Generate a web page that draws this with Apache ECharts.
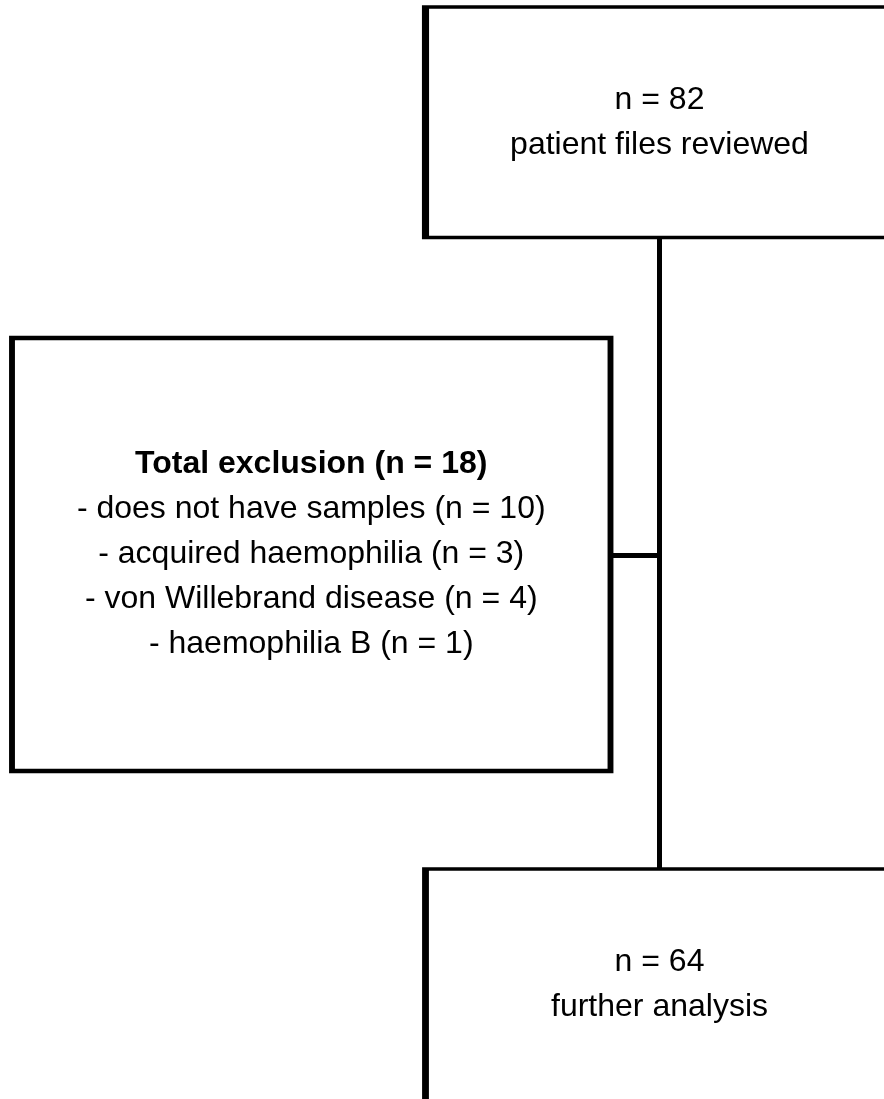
<!DOCTYPE html>
<html>
<head>
<meta charset="utf-8">
<script src="https://cdn.jsdelivr.net/npm/echarts@6/dist/echarts.min.js"></script>
<style>
  html, body { margin: 0; padding: 0; background: #fff; }
  #chart { width: 884px; height: 1099px; }
</style>
</head>
<body>
<div id="chart"></div>
<script>
  // flow counts
  const reviewedCount = 82;
  const reviewedLabel = 'patient files reviewed';
  const excludedCount = 18;
  const exclusionReasons = ['does not have samples', 'acquired haemophilia', 'von Willebrand disease', 'haemophilia B'];
  const exclusionCounts = [10, 3, 4, 1];
  const analysedCount = 64;
  const analysedLabel = 'further analysis';

  // box layout (axis units = px), kept apart from the data
  const layout = {
    top:    { x: 659.5, y: 122.25, w: 468, h: 230.5 },
    excl:   { x: 311.25, y: 554.5, w: 598.5, h: 433 },
    bottom: { x: 659.5, y: 994.5, w: 468, h: 251 },   // runs off the bottom of the page
    trunkX: 659.5,
    branchY: 555
  };

  const font = 'Liberation Sans, Arial, Helvetica, sans-serif';
  const fontSize = 32;
  const lineH = 45;

  let exclText = ['{b|Total exclusion (n = ' + excludedCount + ')}'];
  exclusionReasons.forEach(function (r, i) {
    exclText.push('{r|- ' + r + ' (n = ' + exclusionCounts[i] + ')}');
  });

  function box(name, l, text, offset) {
    return {
      name: name,
      value: [l.x, l.y],
      symbol: 'rect',
      symbolSize: [l.w, l.h],
      itemStyle: { color: '#fff', borderColor: '#000', borderWidth: 5 },
      label: { show: true, position: 'inside', formatter: text, offset: offset || [0, 0] }
    };
  }
  function anchor(name, x, y) {
    return { name: name, value: [x, y], symbolSize: 0, label: { show: false }, itemStyle: { opacity: 0 } };
  }

  const nodes = [
    anchor('topEdge', layout.trunkX, layout.top.y + layout.top.h / 2),
    anchor('junction', layout.trunkX, layout.branchY),
    anchor('bottomEdge', layout.trunkX, layout.bottom.y - layout.bottom.h / 2),
    anchor('exclEdge', layout.excl.x + layout.excl.w / 2, layout.branchY),
    box('reviewed', layout.top, '{r|n = ' + reviewedCount + '}\n{r|' + reviewedLabel + '}'),
    box('excluded', layout.excl, exclText.join('\n')),
    box('analysed', layout.bottom, '{r|n = ' + analysedCount + '}\n{r|' + analysedLabel + '}', [0, -10])
  ];
  const links = [
    { source: 'topEdge', target: 'junction' },
    { source: 'junction', target: 'bottomEdge' },
    { source: 'junction', target: 'exclEdge' }
  ];

  let myChart = echarts.init(document.getElementById('chart'));
  let option = {
    animation: false,
    grid: { left: 0, right: 0, top: 0, bottom: 0 },
    xAxis: { type: 'value', min: 0, max: 884, show: false },
    yAxis: { type: 'value', min: 0, max: 1099, inverse: true, show: false },
    series: [{
      type: 'graph',
      coordinateSystem: 'cartesian2d',
      layout: 'none',
      data: nodes,
      links: links,
      lineStyle: { color: '#000', width: 5, opacity: 1, curveness: 0 },
      emphasis: { disabled: true },
      label: {
        color: '#000',
        fontFamily: font,
        rich: {
          b: { fontFamily: font, fontSize: fontSize, fontWeight: 'bold', lineHeight: lineH, color: '#000' },
          r: { fontFamily: font, fontSize: fontSize, lineHeight: lineH, color: '#000' }
        }
      }
    }]
  };
  myChart.setOption(option);
</script>
</body>
</html>
